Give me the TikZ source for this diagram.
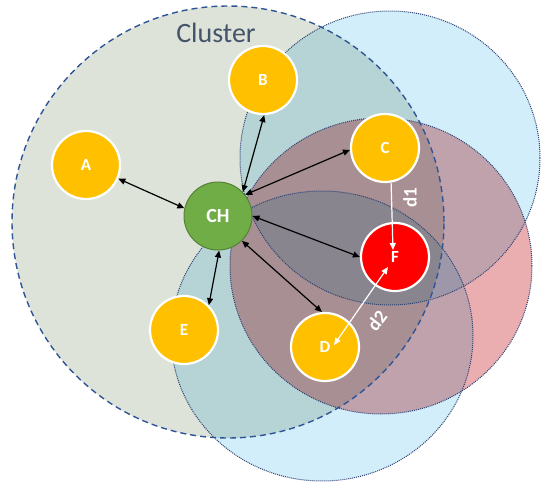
\documentclass[tikz,border=0pt]{standalone}
\usepackage{fontspec}
\setmainfont{Carlito}
\usetikzlibrary{arrows.meta}
\definecolor{clusterfill}{RGB}{222,227,218}
\definecolor{bluefill}{RGB}{210,238,250}
\definecolor{redfill}{RGB}{234,174,176}
\definecolor{dashblue}{RGB}{47,85,151}
\definecolor{dotblue}{RGB}{45,65,115}
\definecolor{nodeorange}{RGB}{255,192,0}
\definecolor{chgreen}{RGB}{112,173,71}
\definecolor{chborder}{RGB}{84,130,53}
\definecolor{textslate}{RGB}{68,84,106}
\begin{document}
\begin{tikzpicture}[x=1pt,y=-1pt,
  sensor/.style={circle, fill=nodeorange, draw=white, line width=2.2pt, minimum size=68pt, inner sep=0pt, text=white, font=\bfseries\fontsize{17}{17}\selectfont},
  target/.style={sensor, fill=red},
  head/.style={circle, fill=chgreen, draw=chborder, line width=1pt, minimum size=68pt, inner sep=0pt, text=white, font=\bfseries\fontsize{20}{20}\selectfont},
  link/.style={{Triangle[length=7pt,width=6pt]}-{Triangle[length=7pt,width=6pt]}, line width=1.2pt, black},
  wlink/.style={-{Triangle[length=7pt,width=6pt]}, line width=1.2pt, white},
  wlinkboth/.style={{Triangle[length=7pt,width=6pt]}-{Triangle[length=7pt,width=6pt]}, line width=1.2pt, white},
  dlabel/.style={text=white, font=\bfseries\fontsize{19}{19}\selectfont, inner sep=0pt},
  rangeline/.style={draw=dotblue, line width=1pt, dash pattern=on 1pt off 1pt},
  clusterline/.style={draw=dashblue, line width=1.4pt, dash pattern=on 6pt off 4pt}
]
\useasboundingbox (0,0) rectangle (542,485);
\fill[white] (0,0) rectangle (542,485);
\begin{scope}[blend mode=multiply]
  \fill[clusterfill] (228,222) circle[radius=216pt];
  \fill[bluefill] (390,158) ellipse[x radius=150pt, y radius=147pt];
  \fill[bluefill] (322,336) ellipse[x radius=151pt, y radius=145pt];
  \fill[redfill] (381,266) ellipse[x radius=151pt, y radius=148pt];
\end{scope}
\draw[rangeline] (390,158) ellipse[x radius=150pt, y radius=147pt];
\draw[rangeline] (322,336) ellipse[x radius=151pt, y radius=145pt];
\draw[rangeline] (381,266) ellipse[x radius=151pt, y radius=148pt];
\draw[clusterline] (228,222) circle[radius=216pt];

\node[anchor=base, text=textslate, font=\fontsize{28}{28}\selectfont] (cl) at (216,42) {Cluster};

\node[sensor] (A) at (86,165) {A};
\node[sensor] (B) at (263,80) {B};
\node[sensor] (C) at (385,148) {C};
\node[sensor] (D) at (325,347) {D};
\node[sensor] (E) at (184,330) {E};
\node[target] (F) at (395,257) {F};
\node[head] (CH) at (218,216) {CH};

\draw[link] (CH.167) -- (A.-23);
\draw[link] (CH.44) -- (B.-88);
\draw[link] (CH.38) -- (C.183);
\draw[link] (CH.0) -- (F.180);
\draw[link] (CH.-46) -- (D.95);
\draw[link] (CH.-88) -- (E.45);
\draw[wlink] (C.-80) -- ([xshift=-2pt,yshift=7pt]F.center);
\draw[wlinkboth] ([xshift=9pt,yshift=2pt]D.center) -- ([xshift=-7pt,yshift=-10pt]F.center);

\node[dlabel, rotate=90] (d1) at (410,198) {d1};
\node[dlabel, rotate=52] (d2) at (377,321) {d2};
\end{tikzpicture}
\end{document}
